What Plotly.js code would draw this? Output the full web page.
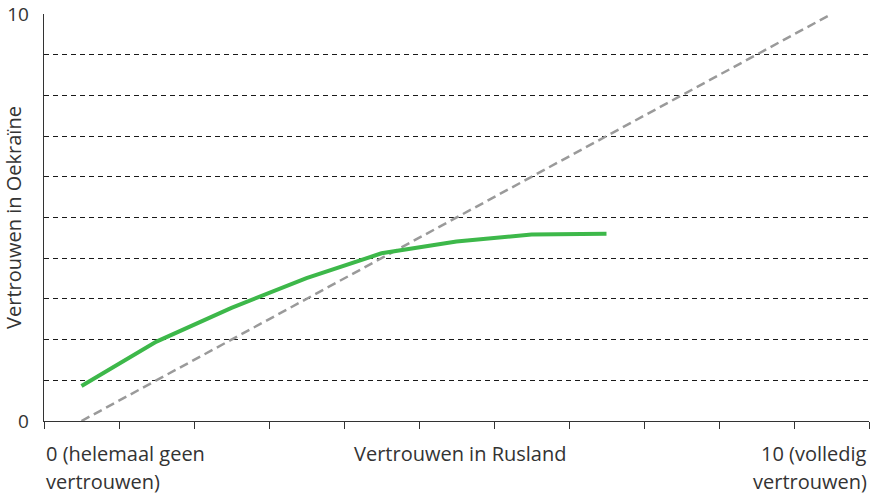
<!DOCTYPE html>
<html>
<head>
<meta charset="utf-8">
<script src="https://cdn.plot.ly/plotly-3.0.1.min.js"></script>
<style>html,body{margin:0;padding:0;background:#fff;}#chart{width:884px;height:494px;}</style>
</head>
<body>
<div id="chart"></div>
<script>
// Categories on the x axis (trust in Russia, 0..10)
const categories = [0, 1, 2, 3, 4, 5, 6, 7, 8, 9, 10];
// Trust in Ukraine per category of trust in Russia (green line)
const trustUkraineX = [0, 1, 2, 3, 4, 5, 6, 7];
const trustUkraine = [0.86, 1.95, 2.78, 3.51, 4.12, 4.41, 4.58, 4.60];
// Reference diagonal (equal trust)
const diagX = [0, 10];
const diagY = [0, 10];
// Axis texts
const yTickVals = [0, 1, 2, 3, 4, 5, 6, 7, 8, 9, 10];
const yTickText = ['0', '', '', '', '', '', '', '', '', '', '10'];
const xLeftLabel = ['0 (helemaal geen', 'vertrouwen)'];
const xRightLabel = ['10 (volledig', 'vertrouwen)'];
const xTitle = 'Vertrouwen in Rusland';
const yTitle = 'Vertrouwen in Oekraïne';

const xBoundaries = categories.map(c => c - 0.5).concat([categories[categories.length - 1] + 0.5]);
const font = 'Open Sans, Noto Sans, sans-serif';
const textColor = '#333333';
const fs = 20;

const traces = [
  {
    x: diagX, y: diagY, type: 'scatter', mode: 'lines',
    line: {color: '#9a9a9a', width: 2.5, dash: '9px,5px'},
    hoverinfo: 'skip', showlegend: false
  },
  {
    x: trustUkraineX, y: trustUkraine, type: 'scatter', mode: 'lines',
    line: {color: '#3db84a', width: 4},
    showlegend: false
  }
];

const annotations = [];
const lineY = [-32, -60];
xLeftLabel.forEach((t, i) => annotations.push({
  xref: 'paper', yref: 'paper', x: 0, y: 0, xanchor: 'left', yanchor: 'middle', yshift: lineY[i],
  showarrow: false, text: t, font: {size: fs, color: textColor}
}));
xRightLabel.forEach((t, i) => annotations.push({
  xref: 'paper', yref: 'paper', x: 1, y: 0, xanchor: 'right', yanchor: 'middle', yshift: lineY[i],
  showarrow: false, text: t, font: {size: fs, color: textColor}
}));
annotations.push({
  xref: 'paper', yref: 'paper', x: 0.5045, y: 0, xanchor: 'center', yanchor: 'middle', yshift: lineY[0],
  showarrow: false, text: xTitle, font: {size: fs, color: textColor}
});

const layout = {
  width: 884, height: 494,
  margin: {l: 43.5, r: 14.5, t: 14, b: 73},
  paper_bgcolor: '#ffffff', plot_bgcolor: '#ffffff',
  font: {family: font, size: fs, color: textColor},
  showlegend: false,
  xaxis: {
    range: [xBoundaries[0], xBoundaries[xBoundaries.length - 1]],
    tickvals: xBoundaries, ticktext: xBoundaries.map(() => ''),
    ticks: 'outside', ticklen: 7, tickwidth: 1, tickcolor: '#333',
    showgrid: false, zeroline: false,
    showline: true, linecolor: '#333', linewidth: 1.2,
    fixedrange: true
  },
  yaxis: {
    range: [0, 10],
    tickvals: yTickVals, ticktext: yTickText,
    ticks: '', ticklabelstandoff: 10,
    showgrid: true, gridcolor: '#1a1a1a', gridwidth: 1, griddash: '5px,4px',
    zeroline: false,
    showline: true, linecolor: '#333', linewidth: 1.3,
    tickfont: {size: 19, color: textColor},
    title: {text: yTitle, font: {size: fs, color: textColor}, standoff: 6},
    fixedrange: true
  },
  annotations: annotations
};

Plotly.newPlot('chart', traces, layout, {displayModeBar: false, staticPlot: true});
</script>
</body>
</html>
